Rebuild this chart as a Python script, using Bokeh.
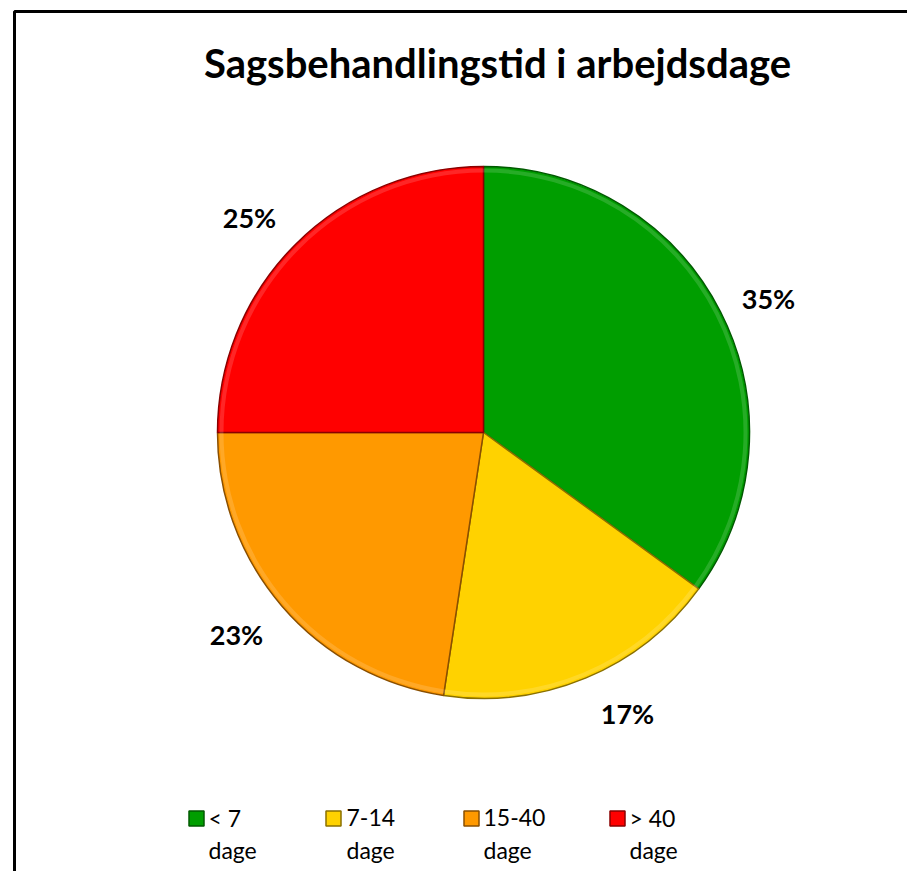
import math
from bokeh.plotting import figure
from bokeh.models import Range1d, ColumnDataSource
from bokeh.core.properties import value
from bokeh.embed import file_html
from bokeh.resources import INLINE

# ---- data ----
categories = ["< 7", "7-14", "15-40", "> 40"]
unit_line = "dage"
shares = [35.0, 17.4, 22.6, 25.0]
colors = ["#009E00", "#FFD200", "#FF9900", "#FF0000"]
edge_colors = ["#005A00", "#8A7000", "#8A4F00", "#8A0000"]
title_text = "Sagsbehandlingstid i arbejdsdage"

# ---- layout (reference pixel coordinates, y measured from top) ----
W, H = 907, 871
def Y(py):
    return H - py

p = figure(width=W, height=H, output_backend="svg", toolbar_location=None,
           x_range=Range1d(0, W), y_range=Range1d(0, H), min_border=0)
p.axis.visible = False
p.grid.visible = False
p.outline_line_color = None
p.background_fill_color = "white"
p.border_fill_color = "white"

# frame border (extends beyond the visible window)
p.line(x=[1000, 14, 14], y=[Y(11), Y(11), Y(1000)], line_color="black", line_width=3)

# title
p.text(x=[497], y=[Y(62)], text=[title_text], text_align="center", text_baseline="middle",
       text_font=value("Lato"), text_font_style="bold", text_font_size="40px", text_color="black")

# pie
cx, cy, r = 483, Y(432), 266
total = sum(shares)
starts, ends = [], []
a = math.pi / 2
for s in shares:
    sweep = 2 * math.pi * s / total
    ends.append(a)
    starts.append(a - sweep)
    a -= sweep
src = ColumnDataSource(dict(start=starts, end=ends, color=colors, edge=edge_colors))
p.wedge(x=cx, y=cy, radius=r, start_angle="start", end_angle="end", fill_color="color",
        line_color="edge", line_width=1.5, source=src)
# soft inner highlight for a bevel feel
p.annular_wedge(x=cx, y=cy, inner_radius=r - 6, outer_radius=r - 2, start_angle="start",
                end_angle="end", fill_color="white", fill_alpha=0.15, line_color=None, source=src)

# percentage labels
label_pos = [(768, 298), (627, 713), (236, 634), (249, 217)]
p.text(x=[q[0] for q in label_pos], y=[Y(q[1]) for q in label_pos],
       text=[f"{round(s / total * 100)}%" for s in shares],
       text_align="center", text_baseline="middle", text_font=value("Lato"),
       text_font_style="bold", text_font_size="27px", text_color="black")

# legend
marker_x = [196, 333, 471, 617]
text_x = [208, 346, 483, 629]
p.scatter(x=marker_x, y=[Y(818)] * 4, marker="square", size=15, fill_color=colors,
          line_color=edge_colors, line_width=1.5)
p.text(x=text_x, y=[Y(817)] * 4, text=categories, text_align="left", text_baseline="middle",
       text_font=value("Lato"), text_font_size="23px", text_color="black")
p.text(x=text_x, y=[Y(849)] * 4, text=[unit_line] * 4, text_align="left", text_baseline="middle",
       text_font=value("Lato"), text_font_size="23px", text_color="black")

open("out.html", "w").write(file_html(p, INLINE))
